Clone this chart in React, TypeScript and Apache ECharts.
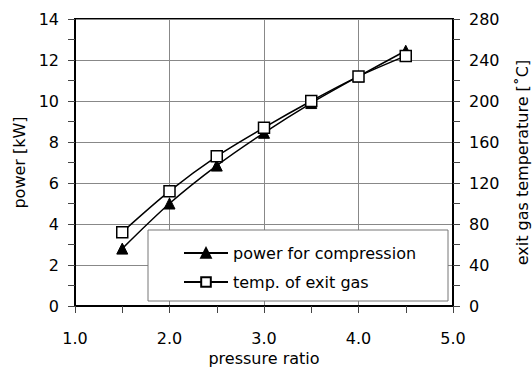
import React, { useEffect, useRef } from "react";
import * as echarts from "echarts";

const pressureRatio = [1.5, 2.0, 2.5, 3.0, 3.5, 4.0, 4.5];
const powerKW = [2.8, 5.0, 6.85, 8.45, 9.9, 11.2, 12.45];
const exitGasTempC = [72, 112, 146, 174, 200, 224, 244];
const seriesNames = ["power for compression", "temp. of exit gas"];

const FONT = "DejaVu Sans, Liberation Sans, Arial, sans-serif";
const FS = 16;

export default function App() {
  const ref = useRef<HTMLDivElement>(null);
  useEffect(() => {
    if (!ref.current) return;
    const chart = echarts.init(ref.current, null, { renderer: "svg" });
    const tickStyle = { show: true, inside: false, length: 7, lineStyle: { color: "#444", width: 1 } };
    const minorStyle = { show: true, splitNumber: 2, length: 7, lineStyle: { color: "#444", width: 1 } };
    const labelStyle = { color: "#000", fontSize: FS, fontFamily: FONT };
    const nameStyle = { color: "#000", fontSize: FS, fontFamily: FONT };
    chart.setOption({
      animation: false,
      backgroundColor: "#fff",
      textStyle: { fontFamily: FONT },
      grid: {
        left: 75,
        right: 79,
        top: 19,
        bottom: 62,
        containLabel: false,
        outerBoundsMode: "none",
        show: true,
        borderColor: "#000",
        borderWidth: 2,
        backgroundColor: "transparent",
      },
      xAxis: {
        type: "value",
        min: 1,
        max: 5,
        interval: 1,
        name: "pressure ratio",
        nameLocation: "middle",
        nameGap: 38,
        nameTextStyle: nameStyle,
        axisLine: { show: true, lineStyle: { color: "#000", width: 2 } },
        axisTick: tickStyle,
        minorTick: minorStyle,
        axisLabel: { ...labelStyle, margin: 24, formatter: (v: number) => v.toFixed(1) },
        splitLine: { show: true, lineStyle: { color: "#888", width: 1 } },
      },
      yAxis: [
        {
          type: "value",
          min: 0,
          max: 14,
          interval: 2,
          name: "power [kW]",
          nameLocation: "middle",
          nameGap: 37,
          nameTextStyle: nameStyle,
          axisLine: { show: true, lineStyle: { color: "#000", width: 2 } },
          axisTick: tickStyle,
          minorTick: minorStyle,
          axisLabel: { ...labelStyle, margin: 16 },
          splitLine: { show: true, lineStyle: { color: "#888", width: 1 } },
        },
        {
          type: "value",
          min: 0,
          max: 280,
          interval: 40,
          position: "right",
          name: "exit gas temperature [˚C]",
          nameLocation: "middle",
          nameGap: 61,
          nameRotate: 90,
          nameTextStyle: nameStyle,
          axisLine: { show: true, lineStyle: { color: "#000", width: 2 } },
          axisTick: tickStyle,
          minorTick: minorStyle,
          axisLabel: { ...labelStyle, margin: 16 },
          splitLine: { show: false },
        },
      ],
      legend: {
        orient: "vertical",
        left: 178,
        top: 240,
        itemWidth: 44,
        itemHeight: 12,
        itemGap: 13,
        data: seriesNames,
        textStyle: { color: "#000", fontSize: FS, fontFamily: FONT },
        inactiveColor: "#000",
      },
      graphic: [
        {
          type: "rect",
          shape: { x: 148, y: 230, width: 300, height: 71 },
          style: { fill: "#fff", stroke: "#777", lineWidth: 1 },
          z: 1,
        },
      ],
      series: [
        {
          name: seriesNames[0],
          type: "line",
          yAxisIndex: 0,
          smooth: 0.3,
          symbol: "triangle",
          symbolSize: 11,
          data: pressureRatio.map((x, i) => [x, powerKW[i]]),
          lineStyle: { color: "#000", width: 1.5 },
          itemStyle: { color: "#000", borderColor: "#000", borderWidth: 1 },
          z: 3,
        },
        {
          name: seriesNames[1],
          type: "line",
          yAxisIndex: 1,
          smooth: 0.3,
          symbol: "rect",
          symbolSize: 11,
          data: pressureRatio.map((x, i) => [x, exitGasTempC[i]]),
          lineStyle: { color: "#000", width: 1.5 },
          itemStyle: { color: "#fff", borderColor: "#000", borderWidth: 1.5 },
          z: 4,
        },
      ],
    });
    return () => chart.dispose();
  }, []);
  return <div ref={ref} style={{ width: 532, height: 368, position: "absolute", left: 0, top: 0 }} />;
}
